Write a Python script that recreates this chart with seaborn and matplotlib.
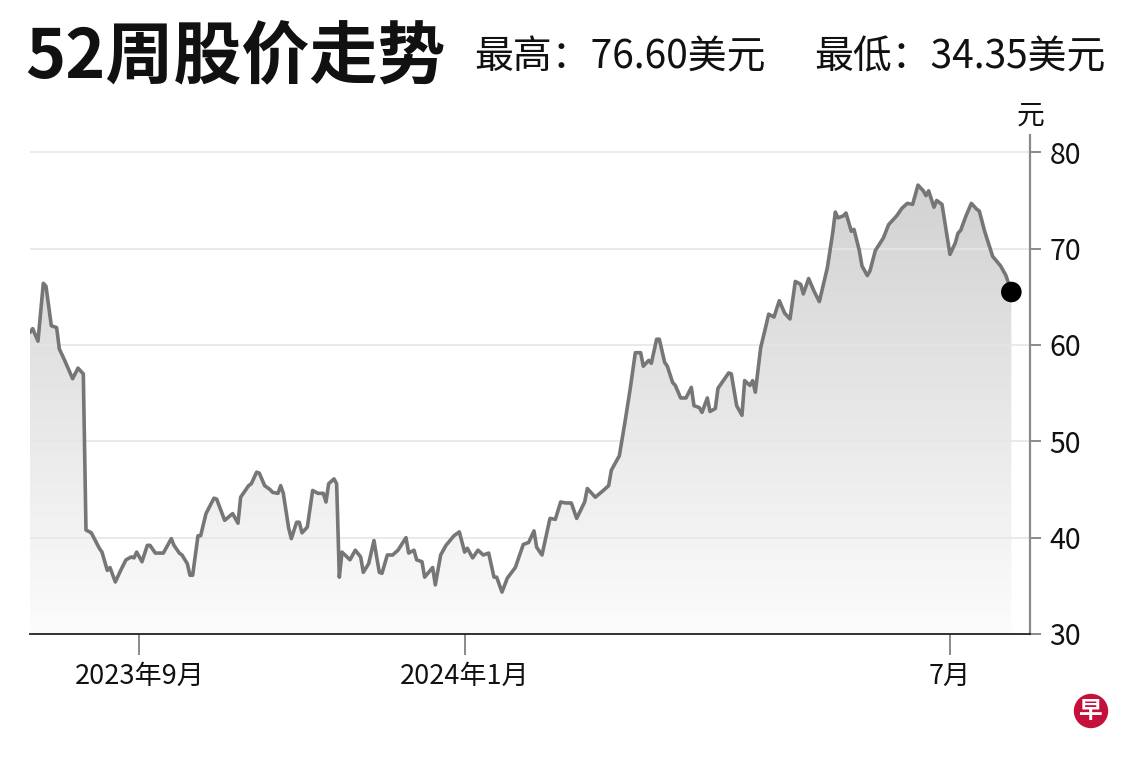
import numpy as np
import pandas as pd
import matplotlib
matplotlib.use("Agg")
import matplotlib.pyplot as plt
import matplotlib.dates as mdates
from matplotlib.colors import LinearSegmentedColormap
from matplotlib.patches import Polygon
import seaborn as sns

# 股价数据
dates = [
    "2023-07-22", "2023-07-23", "2023-07-25", "2023-07-27", "2023-07-28", "2023-07-30",
    "2023-08-01", "2023-08-02", "2023-08-04", "2023-08-07", "2023-08-09", "2023-08-11",
    "2023-08-12", "2023-08-14", "2023-08-17", "2023-08-18", "2023-08-20", "2023-08-21",
    "2023-08-23", "2023-08-25", "2023-08-27", "2023-08-29", "2023-08-30", "2023-08-31",
    "2023-09-02", "2023-09-04", "2023-09-05", "2023-09-07", "2023-09-10", "2023-09-13",
    "2023-09-14", "2023-09-16", "2023-09-17", "2023-09-19", "2023-09-20", "2023-09-21",
    "2023-09-23", "2023-09-24", "2023-09-26", "2023-09-29", "2023-09-30", "2023-10-03",
    "2023-10-06", "2023-10-08", "2023-10-09", "2023-10-12", "2023-10-13", "2023-10-15",
    "2023-10-16", "2023-10-18", "2023-10-20", "2023-10-21", "2023-10-23", "2023-10-24",
    "2023-10-25", "2023-10-27", "2023-10-28", "2023-10-30", "2023-10-31", "2023-11-01",
    "2023-11-03", "2023-11-05", "2023-11-07", "2023-11-09", "2023-11-10", "2023-11-11",
    "2023-11-13", "2023-11-14", "2023-11-15", "2023-11-16", "2023-11-19", "2023-11-21",
    "2023-11-23", "2023-11-24", "2023-11-26", "2023-11-28", "2023-11-29", "2023-11-30",
    "2023-12-01", "2023-12-03", "2023-12-05", "2023-12-07", "2023-12-10", "2023-12-11",
    "2023-12-13", "2023-12-14", "2023-12-16", "2023-12-17", "2023-12-20", "2023-12-21",
    "2023-12-23", "2023-12-25", "2023-12-28", "2023-12-30", "2024-01-01", "2024-01-02",
    "2024-01-04", "2024-01-06", "2024-01-08", "2024-01-10", "2024-01-12", "2024-01-13",
    "2024-01-15", "2024-01-17", "2024-01-20", "2024-01-22", "2024-01-23", "2024-01-25",
    "2024-01-27", "2024-01-28", "2024-01-30", "2024-02-02", "2024-02-04", "2024-02-06",
    "2024-02-08", "2024-02-10", "2024-02-12", "2024-02-15", "2024-02-16", "2024-02-19",
    "2024-02-22", "2024-02-24", "2024-02-25", "2024-02-28", "2024-03-01", "2024-03-03",
    "2024-03-05", "2024-03-07", "2024-03-08", "2024-03-10", "2024-03-11", "2024-03-13",
    "2024-03-14", "2024-03-16", "2024-03-17", "2024-03-19", "2024-03-20", "2024-03-22",
    "2024-03-24", "2024-03-26", "2024-03-27", "2024-03-29", "2024-03-30", "2024-04-01",
    "2024-04-02", "2024-04-04", "2024-04-05", "2024-04-09", "2024-04-10", "2024-04-12",
    "2024-04-14", "2024-04-15", "2024-04-17", "2024-04-18", "2024-04-19", "2024-04-21",
    "2024-04-23", "2024-04-24", "2024-04-26", "2024-04-28", "2024-04-30", "2024-05-02",
    "2024-05-04", "2024-05-06", "2024-05-07", "2024-05-09", "2024-05-11", "2024-05-13",
    "2024-05-16", "2024-05-18", "2024-05-19", "2024-05-20", "2024-05-22", "2024-05-23",
    "2024-05-25", "2024-05-26", "2024-05-28", "2024-05-29", "2024-05-31", "2024-06-01",
    "2024-06-03", "2024-06-06", "2024-06-08", "2024-06-11", "2024-06-13", "2024-06-15",
    "2024-06-17", "2024-06-19", "2024-06-21", "2024-06-22", "2024-06-23", "2024-06-25",
    "2024-06-26", "2024-06-28", "2024-06-30", "2024-07-01", "2024-07-03", "2024-07-04",
    "2024-07-05", "2024-07-07", "2024-07-09", "2024-07-11", "2024-07-12", "2024-07-14",
    "2024-07-17", "2024-07-20", "2024-07-22", "2024-07-24",
]
prices = [
    61.3, 61.7, 60.4, 66.4, 66.1, 62.0,
    61.8, 59.6, 58.4, 56.5, 57.6, 57.0,
    40.8, 40.5, 38.9, 38.5, 36.6, 36.9,
    35.4, 36.6, 37.7, 38.0, 37.9, 38.5,
    37.5, 39.2, 39.2, 38.4, 38.4, 39.9,
    39.2, 38.4, 38.2, 37.3, 36.1, 36.1,
    40.2, 40.2, 42.5, 44.1, 44.0, 41.8,
    42.5, 41.5, 44.2, 45.4, 45.6, 46.8,
    46.7, 45.4, 45.0, 44.7, 44.6, 45.4,
    44.6, 41.0, 39.9, 41.6, 41.6, 40.5,
    41.1, 44.9, 44.6, 44.6, 43.7, 45.6,
    46.1, 45.6, 35.9, 38.5, 37.7, 38.7,
    38.0, 36.4, 37.3, 39.7, 38.0, 36.4,
    36.3, 38.2, 38.2, 38.7, 40.0, 38.4,
    38.7, 37.7, 37.5, 35.9, 36.9, 35.1,
    38.2, 39.2, 40.2, 40.6, 38.5, 38.9,
    37.9, 38.7, 38.2, 38.4, 35.9, 35.9,
    34.35, 35.8, 36.9, 38.5, 39.3, 39.5,
    40.7, 39.0, 38.2, 42.0, 41.9, 43.7,
    43.6, 43.6, 42.0, 43.7, 45.1, 44.2,
    44.9, 45.4, 47.0, 48.5, 51.8, 55.3,
    59.2, 59.2, 57.8, 58.4, 58.1, 60.6,
    60.6, 58.2, 57.8, 56.1, 55.8, 54.5,
    54.5, 55.6, 53.7, 53.5, 53.0, 54.5,
    53.1, 53.4, 55.5, 57.1, 57.0, 53.7,
    52.7, 56.3, 55.8, 56.3, 55.1, 59.7,
    62.0, 63.2, 62.9, 64.6, 63.3, 62.7,
    66.6, 66.3, 65.3, 66.9, 65.6, 64.5,
    68.0, 71.6, 73.8, 73.2, 73.4, 73.7,
    71.8, 72.0, 69.8, 68.2, 67.2, 67.7,
    69.8, 71.1, 72.5, 73.4, 74.2, 74.7,
    74.6, 76.6, 76.0, 75.5, 76.0, 74.3,
    75.0, 74.6, 71.1, 69.4, 70.6, 71.6,
    71.9, 73.4, 74.7, 74.1, 73.9, 71.8,
    69.2, 68.2, 67.2, 65.5,
]

tick_dates = ["2023-09-01", "2024-01-01", "2024-07-01"]
tick_labels = ["2023年9月", "2024年1月", "7月"]
y_ticks = [30, 40, 50, 60, 70, 80]

title = "52周股价走势"
high_text = "最高：76.60美元"
low_text = "最低：34.35美元"
unit_text = "元"
logo_text = "早"

sns.set_theme(style="white")
plt.rcParams["font.family"] = ["Noto Sans CJK SC", "DejaVu Sans"]

df = pd.DataFrame({"date": pd.to_datetime(dates), "price": prices})

fig = plt.figure(figsize=(11.4, 7.6), dpi=100)
ax = fig.add_axes([0.0263, 0.1658, 0.8772, 0.6566])

sns.lineplot(data=df, x="date", y="price", color="#767676", linewidth=2.6, ax=ax, zorder=4)

# 渐变填充
xn = mdates.date2num(df["date"])
fade = LinearSegmentedColormap.from_list("fade", ["#fcfcfc", "#cfcfcf"])
grad = np.linspace(0, 1, 256).reshape(-1, 1)
im = ax.imshow(grad, cmap=fade, origin="lower", aspect="auto",
               extent=[xn[0], xn[-1], y_ticks[0], y_ticks[-1]], zorder=1)
verts = np.column_stack([np.r_[xn, xn[-1], xn[0]],
                         np.r_[df["price"].values, y_ticks[0], y_ticks[0]]])
clip = Polygon(verts, closed=True, transform=ax.transData)
im.set_clip_path(clip)

for y in y_ticks[1:]:
    ax.axhline(y, color="#e6e6e6", linewidth=1.2, zorder=2)

sns.scatterplot(data=df.tail(1), x="date", y="price", color="black", s=220,
                edgecolor="none", ax=ax, zorder=5)

ax.set_xlim(df["date"].iloc[0], pd.Timestamp("2024-07-31"))
ax.set_ylim(30, 81.8)
ax.set_xlabel("")
ax.set_ylabel("")

ax.set_xticks(pd.to_datetime(tick_dates))
ax.set_xticklabels(tick_labels)
ax.set_yticks(y_ticks)

for side in ["left", "top"]:
    ax.spines[side].set_visible(False)
ax.spines["right"].set_color("#8a8a8a")
ax.spines["right"].set_linewidth(1.6)
ax.spines["bottom"].set_color("#222222")
ax.spines["bottom"].set_linewidth(1.3)

ax.yaxis.tick_right()
ax.tick_params(axis="y", right=True, left=False, labelright=True, labelleft=False,
               length=8, width=1.4, color="#8a8a8a", pad=6, labelsize=20.5,
               labelcolor="#111111")
ax.tick_params(axis="x", bottom=True, length=15, width=1.4, color="#8a8a8a",
               pad=6, labelsize=19.5, labelcolor="#111111")

fig.text(25 / 1140, 0.922, title, fontsize=49, fontweight="heavy",
         ha="left", va="center", color="#111111")
fig.text(474 / 1140, 0.924, high_text, fontsize=28, ha="left", va="center",
         color="#111111")
fig.text(814 / 1140, 0.924, low_text, fontsize=28, ha="left", va="center",
         color="#111111")
fig.text(1031 / 1140, 1 - 116 / 760, unit_text, fontsize=20, ha="center",
         va="center", color="#111111")

fig.text(1091 / 1140, 1 - 711 / 760, logo_text, fontsize=17, fontweight="bold",
         color="white", ha="center", va="center",
         bbox=dict(boxstyle="circle,pad=0.22", fc="#c4103a", ec="none"))

fig.savefig("out.png", dpi=100)
